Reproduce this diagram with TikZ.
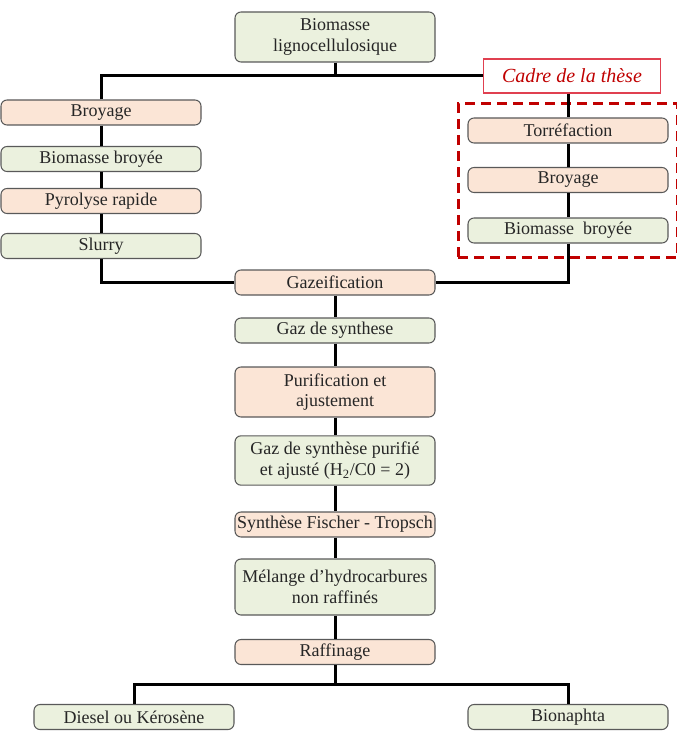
\documentclass[tikz,border=0pt]{standalone}
\usepackage{fontspec}
\setmainfont{Liberation Serif}
\usepackage{xcolor}
\usepackage{tikz}
\usetikzlibrary{positioning, fit}

\definecolor{stepfill}{HTML}{FBE5D6}
\definecolor{prodfill}{HTML}{EBF1DE}
\definecolor{thesered}{HTML}{C00000}
\definecolor{cadreline}{HTML}{E04050}

\begin{document}
\begin{tikzpicture}[x=0.75pt, y=-0.75pt]
    \tikzstyle{base} = [rectangle, minimum width=150pt, minimum height=18.75pt, inner sep=1pt, align=center, draw=black!65, line width=0.8pt, rounded corners=4.5pt, text=black!85, font=\fontsize{13.5}{15.5}\selectfont]
    \tikzstyle{process} = [base, fill=stepfill]
    \tikzstyle{product} = [base, fill=prodfill]
    \tikzstyle{link} = [line width=2.25pt, black]

    \useasboundingbox (0,0) rectangle (677,731);

    % tronc commun
    \node (bio) [product, minimum height=37.5pt] at (335,37) {Biomasse\\lignocellulosique};
    \node (cadre) [rectangle, draw=cadreline, fill=white, line width=0.8pt, minimum width=132.75pt, minimum height=25.5pt, text=thesered, font=\fontsize{15}{17}\selectfont\itshape] at (572,76) {Cadre de la thèse};

    % voie pyrolyse
    \node (lbroy) [process] at (101,112.5) {Broyage};
    \node (lbio) [product] at (101,159) {Biomasse broyée};
    \node (pyro) [process] at (101,201) {Pyrolyse rapide};
    \node (slurry) [product] at (101,246) {Slurry};

    % voie torrefaction
    \node (torr) [process] at (568,130.5) {Torréfaction};
    \node (rbroy) [process] at (568,180) {Broyage};
    \node (rbio) [product] at (568,230.5) {Biomasse\ \ broyée};
    \node (frame) [draw=thesered, line width=2.4pt, dash pattern=on 7.5pt off 4.5pt, inner xsep=6.75pt, inner ysep=10.5pt, fit=(torr)(rbio)] {};

    % synthese
    \node (gaz) [process] at (335,282.5) {Gazeification};
    \node (syngas) [product] at (335,330.5) {Gaz de synthese};
    \node (purif) [process, minimum height=37.5pt] at (335,392) {Purification et\\ajustement};
    \node (synpur) [product, minimum height=37pt] at (335,460.5) {Gaz de synthèse purifié\\et ajusté (H\textsubscript{2}/C0 = 2)};
    \node (ft) [process] at (335,524.5) {Synthèse Fischer - Tropsch};
    \node (melange) [product, minimum height=42pt] at (335,587) {Mélange d’hydrocarbures\\non raffinés};
    \node (raff) [process] at (335,652) {Raffinage};
    \node (diesel) [product] at (134,717) {Diesel ou Kérosène};
    \node (naphta) [product] at (568,717) {Bionaphta};
    \coordinate (split) at (335,684);

    \draw [link] (bio) -- (bio |- cadre.west);
    \draw [link] (lbroy) |- (cadre.west);
    \draw [link] (lbroy) -- (lbio);
    \draw [link] (lbio) -- (pyro);
    \draw [link] (pyro) -- (slurry);
    \draw [link] (slurry) |- (gaz.west);

    \draw [link] (cadre.south -| torr) -- (torr);
    \draw [link] (torr) -- (rbroy);
    \draw [link] (rbroy) -- (rbio);
    \draw [link] (rbio) |- (gaz.east);

    \draw [link] (gaz) -- (syngas);
    \draw [link] (syngas) -- (purif);
    \draw [link] (purif) -- (synpur);
    \draw [link] (synpur) -- (ft);
    \draw [link] (ft) -- (melange);
    \draw [link] (melange) -- (raff);
    \draw [link] (raff) -- (split);
    \draw [link] (diesel) |- (split) -| (naphta);
\end{tikzpicture}
\end{document}
